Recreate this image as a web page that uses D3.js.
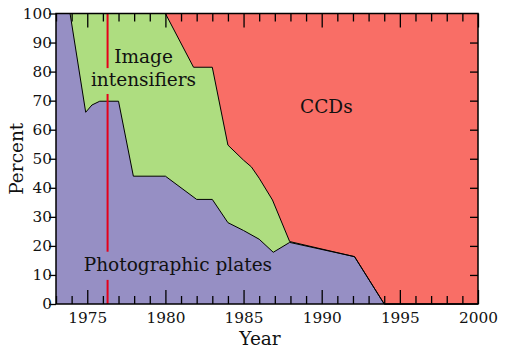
<!DOCTYPE html>
<html>
<head>
<meta charset="utf-8">
<script src="https://cdn.jsdelivr.net/npm/d3@7"></script>
<style>
  body { margin: 0; background: #fff; }
  text { font-family: "DejaVu Serif", serif; fill: #111; }
</style>
</head>
<body>
<div id="chart"></div>
<script>
// boundary of photographic plates share (percent of all)
var platesYears = [1973, 1973.9, 1974.9, 1975.3, 1975.8, 1977, 1977.95, 1980, 1982, 1983, 1984, 1985, 1986, 1986.9, 1987.95, 1992.1, 1994, 2000];
var platesPct   = [100, 100, 66, 68.5, 69.8, 69.8, 44, 44, 36, 36, 28, 25.3, 22.3, 17.8, 21.2, 16.3, 0, 0];

// upper boundary of plates + image intensifiers (rest is CCDs)
var intensYears = [1973, 1980, 1981.8, 1983, 1984, 1985, 1985.5, 1986, 1986.85, 1987.95, 1992.1, 1994, 2000];
var intensPct   = [100, 100, 81.5, 81.5, 54.7, 49.5, 47.2, 43.3, 35.8, 21.5, 16.3, 0, 0];

var markerYear = 1976.3;
var markerSegments = [[100, 81.2], [72.3, 18], [8.3, 0]];

var labels = [
  {text: "Image", year: 1978.6, pct: 83},
  {text: "intensifiers", year: 1978.6, pct: 75},
  {text: "CCDs", year: 1990.3, pct: 65.6},
  {text: "Photographic plates", year: 1980.8, pct: 11.2}
];

var W = 505, H = 351;
var margin = {top: 13.5, right: 27, bottom: 47, left: 56},
    width = W - margin.left - margin.right,
    height = H - margin.top - margin.bottom;

var svg = d3.select("#chart").append("svg")
    .attr("width", W)
    .attr("height", H);
var g = svg.append("g")
    .attr("transform", "translate(" + margin.left + "," + margin.top + ")");

var x = d3.scaleLinear().domain([1973, 2000]).range([0, width]);
var y = d3.scaleLinear().domain([0, 100]).range([height, 0]);

// CCDs: everything on top
g.append("rect")
  .attr("x", 0).attr("y", 0)
  .attr("width", width).attr("height", height)
  .attr("fill", "#f96e66");

var intens = intensYears.map(function(d, i) { return [d, intensPct[i]]; });
var plates = platesYears.map(function(d, i) { return [d, platesPct[i]]; });

var area = d3.area()
  .x(function(d) { return x(d[0]); })
  .y0(y(0))
  .y1(function(d) { return y(d[1]); });
var line = d3.line()
  .x(function(d) { return x(d[0]); })
  .y(function(d) { return y(d[1]); });

g.append("path").datum(intens).attr("d", area).attr("fill", "#aedd80");
g.append("path").datum(plates).attr("d", area).attr("fill", "#968fc4");
g.append("path").datum(intens).attr("d", line).attr("fill", "none").attr("stroke", "#000").attr("stroke-width", 1);
g.append("path").datum(plates).attr("d", line).attr("fill", "none").attr("stroke", "#000").attr("stroke-width", 1);

// red marker line
g.selectAll(".marker")
  .data(markerSegments)
  .enter().append("line")
    .attr("x1", x(markerYear)).attr("x2", x(markerYear))
    .attr("y1", function(d) { return y(d[0]); })
    .attr("y2", function(d) { return y(d[1]); })
    .attr("stroke", "#e6001a")
    .attr("stroke-width", 2);

// annotations
g.selectAll(".lbl")
  .data(labels)
  .enter().append("text")
    .attr("x", function(d) { return x(d.year); })
    .attr("y", function(d) { return y(d.pct); })
    .attr("text-anchor", "middle")
    .style("font-size", "18.5px")
    .text(function(d) { return d.text; });

// axes
var majorX = d3.range(1975, 2001, 5);
var minorX = d3.range(1973, 2001, 1).filter(function(d) { return d % 5 != 0; });

function styleAxis(sel) {
  sel.select(".domain").remove();
  sel.selectAll("line").attr("stroke", "#000").attr("stroke-width", 1.3);
  sel.selectAll("text").style("font-size", "15.3px").style("font-family", "DejaVu Serif, serif").attr("fill", "#111");
}

g.append("g").attr("transform", "translate(0," + height + ")")
  .call(d3.axisBottom(x).tickValues(majorX).tickSize(-14).tickPadding(8).tickFormat(d3.format("d")))
  .call(styleAxis);
g.append("g").attr("transform", "translate(0," + height + ")")
  .call(d3.axisBottom(x).tickValues(minorX).tickSize(-8).tickFormat(""))
  .call(styleAxis);
g.append("g")
  .call(d3.axisTop(x).tickValues(majorX).tickSize(-14).tickFormat(""))
  .call(styleAxis);
g.append("g")
  .call(d3.axisTop(x).tickValues(minorX).tickSize(-8).tickFormat(""))
  .call(styleAxis);
g.append("g")
  .call(d3.axisLeft(y).tickValues(d3.range(0, 101, 10)).tickSize(7).tickPadding(-3))
  .call(styleAxis);
g.append("g").attr("transform", "translate(" + width + ",0)")
  .call(d3.axisRight(y).tickValues(d3.range(10, 100, 10)).tickSize(-8).tickFormat(""))
  .call(styleAxis);

// frame
g.append("rect")
  .attr("width", width).attr("height", height)
  .attr("fill", "none").attr("stroke", "#000").attr("stroke-width", 1.5);

// axis titles
svg.append("text")
  .attr("x", 260).attr("y", 345)
  .attr("text-anchor", "middle")
  .style("font-size", "18.5px")
  .text("Year");
svg.append("text")
  .attr("transform", "translate(23," + (margin.top + height / 2) + ") rotate(-90)")
  .attr("text-anchor", "middle")
  .style("font-size", "18.5px")
  .text("Percent");
</script>
</body>
</html>
